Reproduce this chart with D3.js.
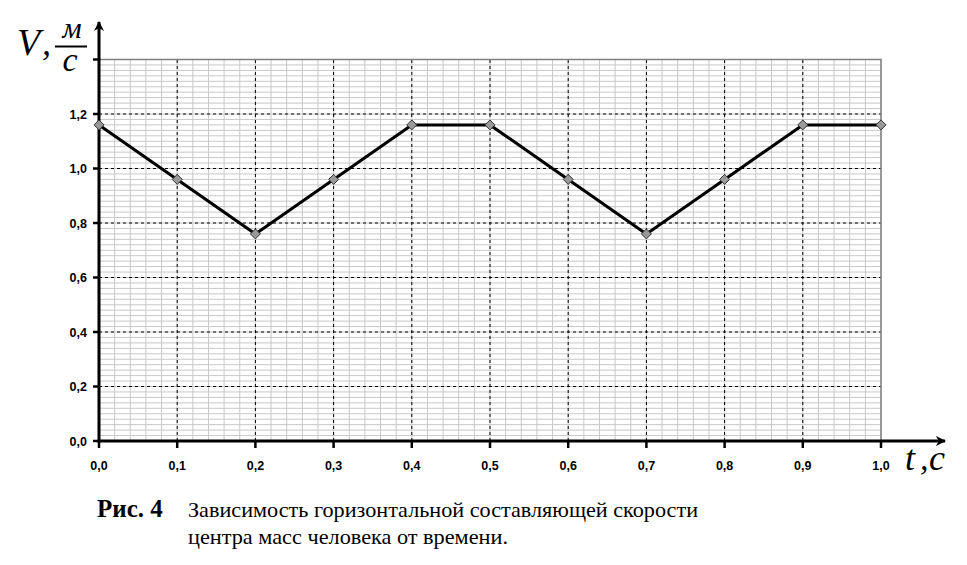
<!DOCTYPE html>
<html>
<head>
<meta charset="utf-8">
<script src="https://cdn.jsdelivr.net/npm/d3@7"></script>
<style>
  body { margin: 0; background: #fff; }
</style>
</head>
<body>
<div id="chart"></div>
<script>
// data
const times = [0.0, 0.1, 0.2, 0.3, 0.4, 0.5, 0.6, 0.7, 0.8, 0.9, 1.0];
const speeds = [1.16, 0.96, 0.76, 0.96, 1.16, 1.16, 0.96, 0.76, 0.96, 1.16, 1.16];
const xTicks = [0, 0.1, 0.2, 0.3, 0.4, 0.5, 0.6, 0.7, 0.8, 0.9, 1.0];
const yTicks = [0, 0.2, 0.4, 0.6, 0.8, 1.0, 1.2, 1.4];
const captionNum = "Рис. 4";
const captionLines = ["Зависимость горизонтальной составляющей  скорости", "центра масс человека от времени."];

const SANS = "'Liberation Sans'";
const SERIF = "'Liberation Serif'";

const W = 967, H = 565;
const svg = d3.select("#chart").append("svg").attr("width", W).attr("height", H);

const x = d3.scaleLinear().domain([0, 1]).range([99, 881]);
const y = d3.scaleLinear().domain([0, 1.4]).range([441, 59.5]);
const fmt = d => d3.format(".1f")(d).replace(".", ",");

// minor grid, step 0.02
const minorX = d3.range(0, 1.0001, 0.02);
const minorY = d3.range(0, 1.4001, 0.02);
svg.append("g").selectAll("line").data(minorX).join("line")
  .attr("x1", d => x(d)).attr("x2", d => x(d))
  .attr("y1", y(0)).attr("y2", y(1.4))
  .attr("stroke", "#c8c8c8").attr("stroke-width", 1);
svg.append("g").selectAll("line").data(minorY).join("line")
  .attr("x1", x(0)).attr("x2", x(1))
  .attr("y1", d => y(d)).attr("y2", d => y(d))
  .attr("stroke", "#c8c8c8").attr("stroke-width", 1);

// major dashed grid
svg.append("g").selectAll("line").data(xTicks.filter(d => d > 0 && d < 1)).join("line")
  .attr("x1", d => x(d)).attr("x2", d => x(d))
  .attr("y1", y(0)).attr("y2", y(1.4))
  .attr("stroke", "#000").attr("stroke-width", 1).attr("stroke-dasharray", "3,3");
svg.append("g").selectAll("line").data(yTicks.filter(d => d > 0 && d < 1.4)).join("line")
  .attr("x1", x(0)).attr("x2", x(1))
  .attr("y1", d => y(d)).attr("y2", d => y(d))
  .attr("stroke", "#000").attr("stroke-width", 1).attr("stroke-dasharray", "3,3");

// plot border top / right
svg.append("path")
  .attr("d", `M${x(0)},${y(1.4)}H${x(1)}V${y(0)}`)
  .attr("fill", "none").attr("stroke", "#808080").attr("stroke-width", 1.5);

// arrow marker
svg.append("defs").append("marker")
  .attr("id", "arr").attr("viewBox", "0 0 10 10")
  .attr("refX", 9).attr("refY", 5)
  .attr("markerWidth", 5).attr("markerHeight", 3.4)
  .attr("markerUnits", "strokeWidth")
  .attr("orient", "auto")
  .append("path").attr("d", "M0,0 L10,5 L0,10 L3,5 Z").attr("fill", "#000");

// axes lines
svg.append("line").attr("x1", x(0)).attr("x2", x(0)).attr("y1", y(0) + 1.5).attr("y2", 22)
  .attr("stroke", "#000").attr("stroke-width", 3).attr("marker-end", "url(#arr)");
svg.append("line").attr("x1", x(0) - 1.5).attr("x2", 945).attr("y1", y(0)).attr("y2", y(0))
  .attr("stroke", "#000").attr("stroke-width", 3).attr("marker-end", "url(#arr)");

// ticks
svg.append("g").selectAll("line").data(yTicks).join("line")
  .attr("x1", x(0) - 6).attr("x2", x(0))
  .attr("y1", d => y(d)).attr("y2", d => y(d))
  .attr("stroke", "#000").attr("stroke-width", 2.5);
svg.append("g").selectAll("line").data(xTicks).join("line")
  .attr("x1", d => x(d)).attr("x2", d => x(d))
  .attr("y1", y(0)).attr("y2", y(0) + 7)
  .attr("stroke", "#000").attr("stroke-width", 2.5);

// tick labels
svg.append("g").selectAll("text").data(yTicks.filter(d => d < 1.4)).join("text")
  .attr("x", 87).attr("y", d => y(d) + 4.5)
  .attr("text-anchor", "end")
  .style("font-family", SANS).style("font-weight", "bold").style("font-size", "12.5px")
  .text(fmt);
svg.append("g").selectAll("text").data(xTicks).join("text")
  .attr("x", d => x(d)).attr("y", 470)
  .attr("text-anchor", "middle")
  .style("font-family", SANS).style("font-weight", "bold").style("font-size", "12.5px")
  .text(fmt);

// data line
const line = d3.line().x((d, i) => x(times[i])).y(d => y(d));
svg.append("path").datum(speeds)
  .attr("d", line)
  .attr("fill", "none").attr("stroke", "#000").attr("stroke-width", 3)
  .attr("stroke-linejoin", "round");

// diamond markers
svg.append("g").selectAll("path").data(speeds).join("path")
  .attr("transform", (d, i) => `translate(${x(times[i])},${y(d)})`)
  .attr("d", "M0,-5L5,0L0,5L-5,0Z")
  .attr("fill", "#999").attr("stroke", "#333").attr("stroke-width", 1);

// axis titles
const italic = (tx, ty, size, s, anchor) => svg.append("text")
  .attr("x", tx).attr("y", ty)
  .attr("text-anchor", anchor || "start")
  .style("font-family", SERIF).style("font-style", "italic").style("font-size", size + "px")
  .text(s);

italic(17, 55, 38, "V");
italic(42, 55, 36, ",");
italic(72, 38, 30, "м", "middle");
svg.append("line").attr("x1", 55).attr("x2", 87).attr("y1", 46.5).attr("y2", 46.5)
  .attr("stroke", "#000").attr("stroke-width", 2);
italic(70, 71, 34, "с", "middle");

italic(905, 470, 36, "t");
italic(920, 470, 34, ",");
italic(929, 470, 36, "с");

// caption
svg.append("text").attr("x", 97).attr("y", 517)
  .style("font-family", SERIF).style("font-weight", "bold").style("font-size", "25px")
  .text(captionNum);
svg.append("g").selectAll("text").data(captionLines).join("text")
  .attr("x", 188).attr("y", (d, i) => 517 + i * 27)
  .style("font-family", SERIF).style("font-size", "21px")
  .attr("textLength", (d, i) => i === 0 ? 510 : 320)
  .attr("lengthAdjust", "spacingAndGlyphs")
  .text(d => d);
</script>
</body>
</html>
